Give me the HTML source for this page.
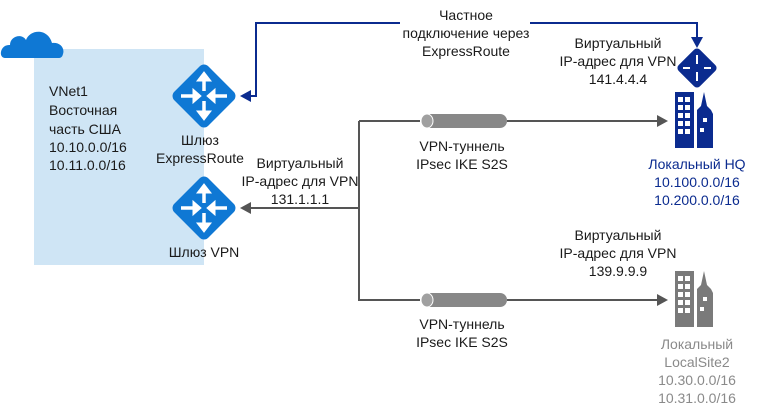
<!DOCTYPE html>
<html><head><meta charset="utf-8"><style>
body{margin:0;background:#fff}
svg{display:block}
text{font-family:"Liberation Sans",sans-serif;font-size:14px;fill:#1a1a1a;text-anchor:middle}
</style></head><body>
<svg width="758" height="413" viewBox="0 0 758 413" xmlns="http://www.w3.org/2000/svg">
<defs>
<g id="gw">
<rect x="-24" y="-24" width="48" height="48" rx="6" transform="rotate(45)" fill="#0f78d4"/>
<g fill="#fff" stroke="#fff" stroke-width="3.5">
<line x1="0" y1="-5" x2="0" y2="-17"/><polygon points="-7,-15 7,-15 0,-24" stroke-width="1"/>
<line x1="0" y1="5" x2="0" y2="17"/><polygon points="-7,15 7,15 0,24" stroke-width="1"/>
<line x1="-23" y1="0" x2="-10" y2="0"/><polygon points="-11,-7 -11,7 -3,0" stroke-width="1"/>
<line x1="23" y1="0" x2="10" y2="0"/><polygon points="11,-7 11,7 3,0" stroke-width="1"/>
</g>
</g>
<g id="bld">
<rect x="0" y="0" width="19" height="56"/>
<polygon points="22,56 22,18 26,14 29,0 32,14 36,18 38,22 38,56"/>
</g>
<g id="win">
<rect x="3" y="5" width="5" height="5"/><rect x="10" y="5" width="5" height="5"/>
<rect x="3" y="13" width="5" height="5"/><rect x="10" y="13" width="5" height="5"/>
<rect x="3" y="21" width="5" height="5"/><rect x="10" y="21" width="5" height="5"/>
<rect x="3" y="29" width="5" height="5"/><rect x="10" y="29" width="5" height="5"/>
<rect x="3" y="37" width="5" height="5"/><rect x="10" y="37" width="5" height="5"/>
<rect x="28" y="26" width="4" height="4"/><rect x="25" y="36" width="4" height="4"/>
</g>
</defs>
<rect x="34" y="49" width="170" height="216" fill="#cfe5f5"/>
<path d="M5,58 C-2,58 0,44 10,45 C10,36 22,33 26,40 C30,29 48,28 52,43 C60,42 65,48 63,54 C62,58 60,58 58,58 Z" fill="#0f78d4"/>
<text style="text-anchor:start"><tspan x="49" y="96">VNet1</tspan><tspan x="49" y="115">Восточная</tspan><tspan x="49" y="134">часть США</tspan><tspan x="49" y="152">10.10.0.0/16</tspan><tspan x="49" y="170">10.11.0.0/16</tspan></text>
<use href="#gw" x="204" y="96"/>
<use href="#gw" x="204" y="208"/>
<text x="200" y="145">Шлюз</text><text x="200" y="163">ExpressRoute</text>
<text x="204" y="257">Шлюз VPN</text>
<polyline points="250,96 256,96 256,23 400,23" fill="none" stroke="#0b2b8f" stroke-width="2"/>
<polygon points="240,96 251,90 251,102" fill="#0b2b8f"/>
<polyline points="530,23 697,23 697,40" fill="none" stroke="#0b2b8f" stroke-width="2"/>
<polygon points="697,48 691,37 703,37" fill="#0b2b8f"/>
<text x="466" y="20">Частное</text><text x="466" y="38">подключение через</text><text x="466" y="56">ExpressRoute</text>
<rect x="-15" y="-15" width="30" height="30" rx="4" transform="translate(697 68) rotate(45)" fill="#0b2b8f"/>
<g fill="#fff" stroke="#fff" stroke-width="2"><line x1="697" y1="64" x2="697" y2="55"/><line x1="697" y1="72" x2="697" y2="81"/><line x1="683" y1="68" x2="690" y2="68"/><line x1="711" y1="68" x2="704" y2="68"/></g>
<g fill="#0b2b8f"><use href="#bld" x="675" y="92"/></g>
<g fill="#fff"><use href="#win" x="675" y="92"/></g>
<text x="618" y="48">Виртуальный</text><text x="618" y="66">IP-адрес для VPN</text><text x="618" y="84">141.4.4.4</text>
<g stroke="#555" stroke-width="2" fill="none">
<polyline points="359,121 359,300 420,300"/>
<line x1="359" y1="121" x2="420" y2="121"/>
<line x1="507" y1="121" x2="660" y2="121"/>
<line x1="507" y1="300" x2="660" y2="300"/>
<line x1="359" y1="208" x2="250" y2="208"/>
</g>
<g fill="#555">
<polygon points="668,121 657,115 657,127"/>
<polygon points="668,300 657,294 657,306"/>
<polygon points="240,208 251,202 251,214"/>
</g>
<g fill="#888">
<rect x="422" y="114" width="85" height="14" rx="7"/><ellipse cx="427" cy="121" rx="6" ry="7" fill="#a0a0a0" stroke="#fff"/>
<rect x="422" y="293" width="85" height="14" rx="7"/><ellipse cx="427" cy="300" rx="6" ry="7" fill="#a0a0a0" stroke="#fff"/>
</g>
<text x="300" y="168">Виртуальный</text><text x="300" y="186">IP-адрес для VPN</text><text x="300" y="204">131.1.1.1</text>
<text x="462" y="151">VPN-туннель</text><text x="462" y="169">IPsec IKE S2S</text>
<text x="697" y="169" style="fill:#0b2b8f">Локальный HQ</text><text x="697" y="187" style="fill:#0b2b8f">10.100.0.0/16</text><text x="697" y="205" style="fill:#0b2b8f">10.200.0.0/16</text>
<text x="618" y="240">Виртуальный</text><text x="618" y="258">IP-адрес для VPN</text><text x="618" y="276">139.9.9.9</text>
<g fill="#7a7a7a"><use href="#bld" x="675" y="271"/></g>
<g fill="#fff"><use href="#win" x="675" y="271"/></g>
<text x="462" y="329">VPN-туннель</text><text x="462" y="347">IPsec IKE S2S</text>
<text x="697" y="349" style="fill:#8a8a8a">Локальный</text><text x="697" y="367" style="fill:#8a8a8a">LocalSite2</text><text x="697" y="385" style="fill:#8a8a8a">10.30.0.0/16</text><text x="697" y="403" style="fill:#8a8a8a">10.31.0.0/16</text>
</svg>
</body></html>
